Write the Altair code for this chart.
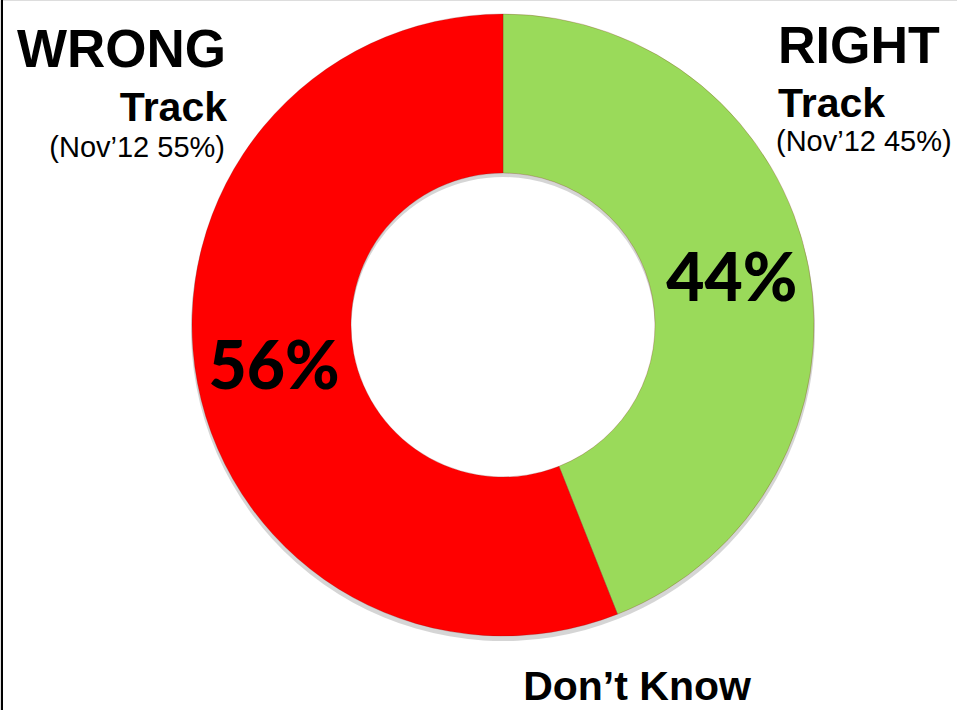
import altair as alt
import pandas as pd

categories = ["RIGHT Track", "WRONG Track"]
values = [44, 56]
order = [1, 2]
colors = ["#9ADA5A", "#FF0000"]

df = pd.DataFrame({"category": categories, "value": values, "order": order})

CX, CY = 503, 325
R_OUT, R_IN = 311, 152

base = alt.Chart(df).encode(
    theta=alt.Theta("value:Q", stack=True),
    order=alt.Order("order:Q"),
    x=alt.value(CX),
    y=alt.value(CY),
)

shadow = base.mark_arc(outerRadius=R_OUT + 1, innerRadius=R_IN, color="#888888", opacity=0.35, yOffset=4)

ring = base.mark_arc(outerRadius=R_OUT, innerRadius=R_IN, stroke="#7a1010", strokeWidth=0.8, strokeOpacity=0.3).encode(
    color=alt.Color("category:N", scale=alt.Scale(domain=categories, range=colors), legend=None)
)

pct = base.transform_calculate(label="datum.value + '%'").mark_text(
    radius=233, font="Lato", fontWeight=900, fontSize=66, color="black",
    align="center", baseline="middle"
).encode(text="label:N")

def txt(s, x, y, size, align, bold=True):
    return alt.Chart(pd.DataFrame({"t": [s]})).mark_text(
        font="Liberation Sans", fontWeight="bold" if bold else "normal", fontSize=size,
        align=align, baseline="alphabetic", color="black"
    ).encode(text="t:N", x=alt.value(x), y=alt.value(y))

texts = [
    txt("WRONG", 17, 67, 53, "left"),
    txt("Track", 227, 121, 41, "right"),
    txt("(Nov\u201912 55%)", 225, 157, 29, "right", bold=False),
    txt("RIGHT", 778, 63, 52, "left"),
    txt("Track", 778, 117, 41, "left"),
    txt("(Nov\u201912 45%)", 776, 151, 29, "left", bold=False),
    txt("Don\u2019t Know", 637, 700, 41, "center"),
]

border = alt.Chart(pd.DataFrame({"a": [0]})).mark_rule(color="black", strokeWidth=2).encode(
    x=alt.value(2), y=alt.value(0), y2=alt.value(710)
)

chart = alt.layer(shadow, ring, pct, border, *texts).properties(
    width=957, height=710, autosize=alt.AutoSizeParams(type="none"), padding=0
).configure_view(stroke=None).configure(background="white")

chart.save("out.html", embed_options={"renderer": "svg", "actions": False})
